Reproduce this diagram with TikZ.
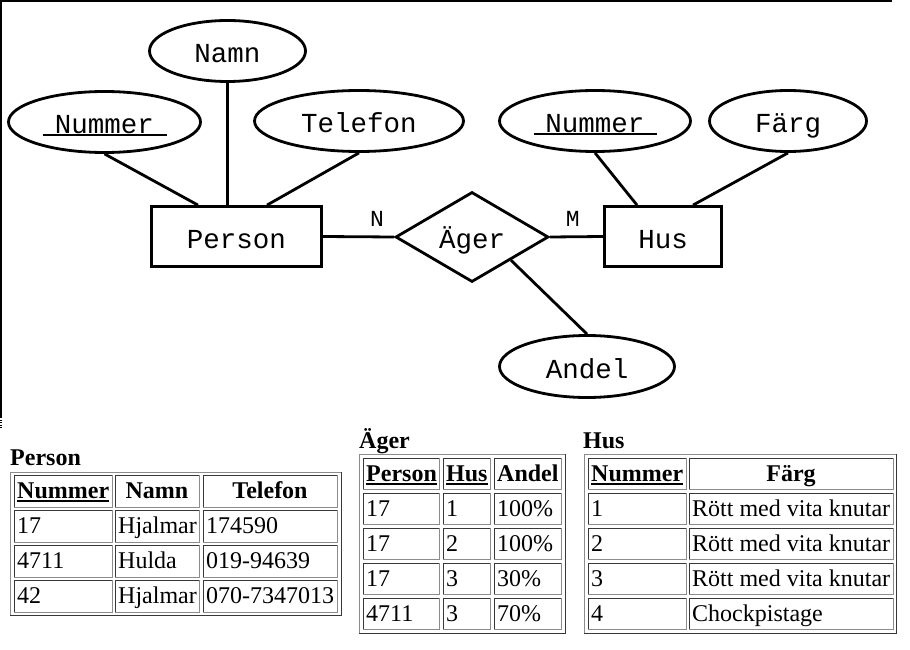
\documentclass[tikz,border=0pt]{standalone}
\usepackage{fontspec}
\setmainfont{Liberation Serif}
\newfontfamily\ermono{Liberation Mono}
\usetikzlibrary{shapes.geometric}

% bold underline for key columns in the tables
\newcommand\keyul[1]{\setbox0\hbox{#1}\rlap{\rule[-4pt]{\wd0}{2pt}}\box0}
% one table cell with an inset border: x0 y0 x1 y1
\newcommand\tcell[4]{%
  \draw[dkedge] (#1,#4) |- (#3,#2);
  \draw[ltedge] (#3,#2) |- (#1,#4);}
% outer frame of a table with an outset border: x0 y0 x1 y1
\newcommand\tframe[4]{%
  \draw[ltedge] (#1,#4) |- (#3,#2);
  \draw[dkedge] (#3,#2) |- (#1,#4);}

\tikzset{
  er/.style={line width=2.8pt, black},
  erfont/.style={font=\ermono\fontsize{27.5}{30}\selectfont},
  attr/.style={er, draw, ellipse, inner sep=0pt, erfont, text height=24pt, text depth=0pt},
  entity/.style={er, draw, rectangle, inner sep=0pt, erfont, text height=24pt, text depth=0pt},
  rel/.style={er, draw, diamond, inner sep=0pt, erfont, text height=23pt, text depth=0pt},
  card/.style={font=\ermono\fontsize{23}{26}\selectfont, anchor=base, inner sep=0pt, yshift=10pt},
  keyline/.style={line width=2.6pt},
  ltedge/.style={draw=black!45, line width=1pt},
  dkedge/.style={draw=black!78, line width=1pt},
  celltext/.style={font=\fontsize{24}{28}\selectfont, inner sep=0pt, anchor=base west},
  headtext/.style={font=\bfseries\fontsize{24}{28}\selectfont, inner sep=0pt, anchor=base},
  headleft/.style={headtext, anchor=base west},
  title/.style={font=\bfseries\fontsize{24}{28}\selectfont, inner sep=0pt, anchor=base west},
}

\begin{document}
\begin{tikzpicture}[x=1pt, y=-1pt]
\useasboundingbox (0,0) rectangle (910,650);

% frame of the diagram image
\draw[line width=2pt] (0,1) -- (892,1);
\draw[line width=2pt] (1,0) -- (1,417);
\draw[line width=2pt, dash pattern=on 1pt off 1.5pt] (1,417) -- (1,429);

% ---------------- ER diagram ----------------
\node[attr, minimum width=156, minimum height=61] (namn) at (227.5,51) {Namn};
\node[attr, minimum width=192, minimum height=61] (pnr) at (104.5,122) {Nummer};
\node[attr, minimum width=209, minimum height=61] (tel) at (359,121) {Telefon};
\node[entity, minimum width=170, minimum height=60] (person) at (236.5,236.5) {Person};
\node[rel, minimum width=153, minimum height=90] (ager) at (472,237) {Äger};
\node[entity, minimum width=117, minimum height=60] (hus) at (663,236.5) {Hus};
\node[attr, minimum width=191, minimum height=61] (hnr) at (595,121) {Nummer};
\node[attr, minimum width=157, minimum height=61] (farg) at (788,121) {Färg};
\node[attr, minimum width=175, minimum height=62] (andel) at (587,366.5) {Andel};

% key attributes are underlined
\draw[keyline] ([shift={(-62,13)}]pnr.center) -- ++(124,0);
\draw[keyline] ([shift={(-61,13)}]hnr.center) -- ++(123,0);

% attribute links
\draw[er] (pnr.south) -- ([xshift=-38.5pt]person.north);
\draw[er] (namn.south) -- ([xshift=-9pt]person.north);
\draw[er] (tel.south) -- ([xshift=30.5pt]person.north);
\draw[er] (hnr.south) -- ([xshift=-26pt]hus.north);
\draw[er] (farg.south) -- ([xshift=30pt]hus.north);
\draw[er] (ager.south east) -- (andel.north);

% relationship links with cardinalities
\draw[er] (person.east) -- node[card, pos=0.76] (cardn) {N} (ager.west);
\draw[er] (ager.east) -- node[card, pos=0.43] (cardm) {M} (hus.west);

% ---------------- table Person ----------------
\node[title] (tperson) at (10,465) {Person};
\tframe{10}{472}{341}{615}
\foreach \yy in {475,510,545,580}{
  \tcell{14}{\yy}{112}{\yy+32}
  \tcell{115}{\yy}{199}{\yy+32}
  \tcell{203}{\yy}{337}{\yy+32}
}
\node[headleft] (p-h1) at (17,498) {\keyul{Nummer}};
\node[headtext] (p-h2) at (157,498) {Namn};
\node[headtext] (p-h3) at (270,498) {Telefon};
\node[celltext] (p-11) at (17,533) {17};
\node[celltext] (p-12) at (118,533) {Hjalmar};
\node[celltext] (p-13) at (206,533) {174590};
\node[celltext] (p-21) at (17,568) {4711};
\node[celltext] (p-22) at (118,568) {Hulda};
\node[celltext] (p-23) at (206,568) {019-94639};
\node[celltext] (p-31) at (17,603) {42};
\node[celltext] (p-32) at (118,603) {Hjalmar};
\node[celltext] (p-33) at (206,603) {070-7347013};

% ---------------- table Äger ----------------
\node[title] (tager) at (359,448) {Äger};
\tframe{359}{454}{565}{633}
\foreach \yy in {458,493,528,563,598}{
  \tcell{363}{\yy}{439}{\yy+31}
  \tcell{443}{\yy}{490}{\yy+31}
  \tcell{494}{\yy}{561}{\yy+31}
}
\node[headleft] (a-h1) at (366,481) {\keyul{Person}};
\node[headleft] (a-h2) at (446,481) {\keyul{Hus}};
\node[headleft] (a-h3) at (497,481) {Andel};
\node[celltext] (a-11) at (366,516) {17};
\node[celltext] (a-12) at (446,516) {1};
\node[celltext] (a-13) at (497,516) {100\%};
\node[celltext] (a-21) at (366,551) {17};
\node[celltext] (a-22) at (446,551) {2};
\node[celltext] (a-23) at (497,551) {100\%};
\node[celltext] (a-31) at (366,586) {17};
\node[celltext] (a-32) at (446,586) {3};
\node[celltext] (a-33) at (497,586) {30\%};
\node[celltext] (a-41) at (366,621) {4711};
\node[celltext] (a-42) at (446,621) {3};
\node[celltext] (a-43) at (497,621) {70\%};

% ---------------- table Hus ----------------
\node[title] (thus) at (583,448) {Hus};
\tframe{584}{454}{896}{633}
\foreach \yy in {458,493,528,563,598}{
  \tcell{588}{\yy}{686}{\yy+31}
  \tcell{689}{\yy}{893}{\yy+31}
}
\node[headleft] (h-h1) at (591,481) {\keyul{Nummer}};
\node[headtext] (h-h2) at (791,481) {Färg};
\node[celltext] (h-11) at (591,516) {1};
\node[celltext] (h-12) at (692,516) {Rött med vita knutar};
\node[celltext] (h-21) at (591,551) {2};
\node[celltext] (h-22) at (692,551) {Rött med vita knutar};
\node[celltext] (h-31) at (591,586) {3};
\node[celltext] (h-32) at (692,586) {Rött med vita knutar};
\node[celltext] (h-41) at (591,621) {4};
\node[celltext] (h-42) at (692,621) {Chockpistage};
\end{tikzpicture}
\end{document}
